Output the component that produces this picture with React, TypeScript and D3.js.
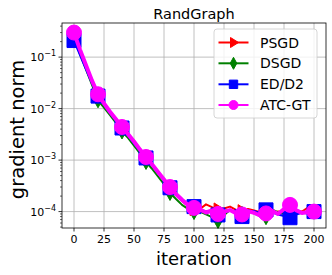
import React from "react";
import * as d3 from "d3";

const iterations: number[] = d3.range(0, 201, 5);

const psgd: number[] = [0.26, 0.125, 0.064, 0.033, 0.018, 0.0122, 0.0084, 0.006, 0.0043, 0.0031, 0.0022, 0.00155, 0.00112, 0.0008, 0.00057, 0.00041, 0.00029, 0.00021, 0.00016, 0.000128, 0.000112, 1.12e-4, 1.38e-4, 1.22e-4, 1.1e-4, 1.15e-4, 1.25e-4, 1.08e-4, 1.02e-4, 1.12e-4, 1.05e-4, 0.97e-4, 1.03e-4, 0.95e-4, 1.0e-4, 0.98e-4, 1.02e-4, 1.05e-4, 1.0e-4, 1.2e-4, 1.03e-4];
const dsgd: number[] = [0.23, 0.115, 0.058, 0.029, 0.0145, 0.0105, 0.0075, 0.0053, 0.0036, 0.0027, 0.0019, 0.00135, 0.00092, 0.00068, 0.00048, 0.00034, 0.00023, 0.000175, 0.000135, 0.000112, 0.000098, 1.0e-4, 0.88e-4, 0.78e-4, 0.66e-4, 0.85e-4, 1.08e-4, 0.95e-4, 0.9e-4, 1.05e-4, 0.92e-4, 0.82e-4, 0.78e-4, 1.1e-4, 0.96e-4, 0.9e-4, 0.94e-4, 1.02e-4, 0.95e-4, 0.98e-4, 1.0e-4];
const edd2: number[] = [0.21, 0.11, 0.058, 0.031, 0.0175, 0.0118, 0.0082, 0.0058, 0.0042, 0.003, 0.0021, 0.0015, 0.0011, 0.00079, 0.00056, 0.0004, 0.00029, 0.00021, 0.000165, 0.000138, 0.000125, 1.08e-4, 1.02e-4, 0.95e-4, 0.86e-4, 0.97e-4, 1.04e-4, 0.92e-4, 0.8e-4, 0.95e-4, 1.03e-4, 0.93e-4, 1.08e-4, 0.97e-4, 0.88e-4, 0.82e-4, 0.76e-4, 0.88e-4, 0.95e-4, 0.92e-4, 1.0e-4];
const atcgt: number[] = [0.3, 0.14, 0.07, 0.035, 0.019, 0.0126, 0.0087, 0.0062, 0.0044, 0.0032, 0.0023, 0.0016, 0.00115, 0.00083, 0.00059, 0.00042, 0.0003, 0.00022, 0.00017, 0.000135, 0.000118, 1.1e-4, 0.96e-4, 1.05e-4, 0.9e-4, 1.0e-4, 1.07e-4, 0.93e-4, 0.88e-4, 1.02e-4, 0.95e-4, 0.84e-4, 0.92e-4, 1.04e-4, 0.9e-4, 1.12e-4, 1.35e-4, 1.07e-4, 0.94e-4, 0.98e-4, 1.0e-4];

const seriesNames = ["PSGD", "DSGD", "ED/D2", "ATC-GT"];
const seriesColors = ["#ff0000", "#008000", "#0000ff", "#ff00ff"];
const seriesMarkers = ["triangle", "thin_diamond", "square", "circle"];
const seriesWidths = [2, 2, 2, 4];

const xTicks = [0, 25, 50, 75, 100, 125, 150, 175, 200];
const yTickExps = [-1, -2, -3, -4];

const W = 332, H = 275;
const L = 62, R = 326, T = 23, B = 228;
const FONT = "DejaVu Sans, sans-serif";

function markerPath(kind: string, s: number): string {
  if (kind === "circle") {
    return `M ${s} 0 A ${s} ${s} 0 1 1 ${-s} 0 A ${s} ${s} 0 1 1 ${s} 0 Z`;
  }
  if (kind === "square") {
    return `M ${-s} ${-s} L ${s} ${-s} L ${s} ${s} L ${-s} ${s} Z`;
  }
  if (kind === "triangle") {
    return `M ${s} 0 L ${-s * 0.6} ${-s} L ${-s * 0.6} ${s} Z`;
  }
  return `M 0 ${-s} L ${s * 0.55} 0 L 0 ${s} L ${-s * 0.55} 0 Z`;
}

export default function App() {
  const x = d3.scaleLinear().domain([-10, 210]).range([L, R]);
  const y = d3.scaleLog().domain([4.8e-5, 0.46]).range([B, T]);
  const data = [psgd, dsgd, edd2, atcgt];
  const line = d3
    .line<number>()
    .x((_, i) => x(iterations[i]))
    .y((d) => y(d));

  const minorTicks: number[] = [];
  for (let e = -5; e <= 0; e++) {
    for (let k = 2; k <= 9; k++) {
      const v = k * Math.pow(10, e);
      if (v >= 4.8e-5 && v <= 0.46) minorTicks.push(v);
    }
  }

  const legendRows = [42.5, 63.3, 84.3, 105];
  const markerSizes = [6.5, 7.5, 7, 7.5];
  const legendSizes = [5, 6, 4.2, 4.5];

  return (
    <svg
      width={W}
      height={H}
      style={{ position: "absolute", left: 0, top: 0, background: "#fff" }}
      fontFamily={FONT}
    >
      <rect x={0} y={0} width={W} height={H} fill="#fff" />
      {xTicks.map((t) => (
        <line key={"gx" + t} x1={x(t)} x2={x(t)} y1={T} y2={B} stroke="#b0b0b0" strokeWidth={0.8} />
      ))}
      {yTickExps.map((e) => (
        <line key={"gy" + e} x1={L} x2={R} y1={y(Math.pow(10, e))} y2={y(Math.pow(10, e))} stroke="#b0b0b0" strokeWidth={0.8} />
      ))}
      {data.map((vals, si) => (
        <g key={"s" + si}>
          <path
            d={line(vals) || ""}
            fill="none"
            stroke={seriesColors[si]}
            strokeWidth={seriesWidths[si]}
            strokeLinejoin="round"
          />
          {vals.map((v, i) =>
            iterations[i] % 20 === 0 ? (
              <path
                key={i}
                d={markerPath(seriesMarkers[si], markerSizes[si])}
                transform={`translate(${x(iterations[i])},${y(v)})`}
                fill={seriesColors[si]}
                stroke={seriesColors[si]}
                strokeWidth={1}
              />
            ) : null
          )}
        </g>
      ))}
      <rect x={L} y={T} width={R - L} height={B - T} fill="none" stroke="#000" strokeWidth={0.8} />
      {xTicks.map((t) => (
        <g key={"xt" + t}>
          <line x1={x(t)} x2={x(t)} y1={B} y2={B + 3.5} stroke="#000" strokeWidth={0.8} />
          <text x={x(t)} y={B + 15} fontSize={11} textAnchor="middle" fill="#000">
            {t}
          </text>
        </g>
      ))}
      {yTickExps.map((e) => (
        <g key={"yt" + e}>
          <line x1={L - 3.5} x2={L} y1={y(Math.pow(10, e))} y2={y(Math.pow(10, e))} stroke="#000" strokeWidth={0.8} />
          <text x={L - 6} y={y(Math.pow(10, e)) + 4} fontSize={11} textAnchor="end" fill="#000">
            <tspan>10</tspan>
            <tspan dy={-5} fontSize={8}>{"\u2212" + Math.abs(e)}</tspan>
          </text>
        </g>
      ))}
      {minorTicks.map((v, i) => (
        <line key={"mt" + i} x1={L - 2} x2={L} y1={y(v)} y2={y(v)} stroke="#000" strokeWidth={0.6} />
      ))}
      <text x={(L + R) / 2} y={19} fontSize={14.5} textAnchor="middle" fill="#000">
        RandGraph
      </text>
      <text x={(L + R) / 2} y={265} fontSize={18} textAnchor="middle" fill="#000">
        iteration
      </text>
      <text
        transform={`translate(24,${(T + B) / 2 + 4}) rotate(-90)`}
        fontSize={19.5}
        textAnchor="middle"
        fill="#000"
      >
        gradient norm
      </text>
      <rect x={214} y={29} width={103} height={89} rx={3} fill="#fff" fillOpacity={0.8} stroke="#cccccc" strokeWidth={0.8} />
      {seriesNames.map((n, si) => (
        <g key={"lg" + si}>
          <line x1={218.5} x2={248.5} y1={legendRows[si]} y2={legendRows[si]} stroke={seriesColors[si]} strokeWidth={2} />
          <path
            d={markerPath(seriesMarkers[si], legendSizes[si])}
            transform={`translate(233.5,${legendRows[si]})`}
            fill={seriesColors[si]}
            stroke={seriesColors[si]}
            strokeWidth={1}
          />
          <text x={260} y={legendRows[si] + 5} fontSize={14} fill="#000">
            {n}
          </text>
        </g>
      ))}
    </svg>
  );
}
